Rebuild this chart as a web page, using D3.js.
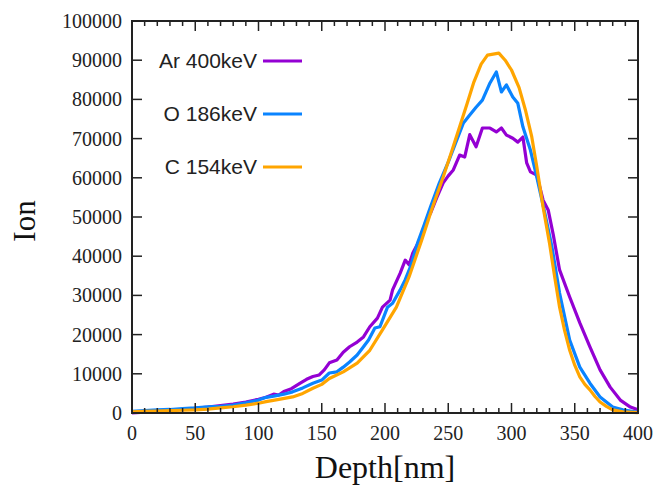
<!DOCTYPE html>
<html>
<head>
<meta charset="utf-8">
<script src="https://cdn.jsdelivr.net/npm/d3@7"></script>
<style>
  body { margin: 0; background: #fff; }
  svg { display: block; }
</style>
</head>
<body>
<svg id="chart" width="659" height="485"></svg>
<script>
// depth (nm) and ion counts
const arDepth = [0, 10, 20, 30, 40, 50, 60, 70, 80, 90, 100, 106, 112, 116, 120, 126, 133, 138, 143, 148, 152, 156, 162, 167, 172, 178, 183, 188, 194, 198, 204, 206, 212, 216, 219, 222, 228, 232, 236, 241, 246, 250, 254, 259, 263, 267, 272, 277, 283, 288, 292, 296, 301, 305, 309, 312, 315, 320, 325, 329, 333, 338, 346, 354, 362, 370, 378, 386, 394, 400];
const arIons  = [0, 200, 500, 700, 900, 1200, 1500, 1900, 2300, 2800, 3500, 4000, 4800, 4600, 5500, 6200, 7600, 8600, 9300, 9700, 11000, 12800, 13500, 15500, 16900, 18100, 19400, 22000, 24200, 27000, 28800, 31400, 35700, 39000, 37800, 40800, 44500, 48500, 51000, 55000, 58700, 60500, 62000, 65800, 65300, 71000, 67900, 72700, 72700, 71700, 72700, 70900, 70100, 69100, 70400, 63800, 61500, 60700, 54300, 51800, 45500, 36500, 29600, 23000, 16900, 11000, 6600, 3300, 1500, 800];

const oDepth = [0, 10, 20, 30, 40, 50, 60, 70, 80, 90, 100, 106, 112, 120, 127, 135, 143, 150, 156, 162, 167, 172, 178, 183, 187, 192, 196, 202, 206, 212, 216, 220, 226, 231, 236, 243, 250, 256, 262, 267, 272, 277, 283, 288, 292, 296, 301, 305, 309, 315, 320, 326, 332, 338, 346, 354, 362, 370, 380, 388, 394, 400];
const oIons  = [400, 600, 800, 900, 1100, 1300, 1600, 1700, 2000, 2600, 3300, 4000, 4300, 4800, 5400, 6400, 7600, 8400, 10200, 10500, 11700, 13000, 14800, 16900, 18600, 21700, 22000, 27000, 28000, 31400, 34000, 37200, 43600, 48000, 52600, 58700, 64000, 69000, 74000, 76000, 78000, 79800, 84200, 87000, 81900, 83700, 80600, 79000, 73000, 67000, 60200, 51500, 42300, 30600, 18600, 11700, 7600, 4100, 1500, 800, 500, 200];

const cDepth = [0, 10, 20, 30, 40, 50, 60, 70, 80, 90, 100, 106, 115, 127, 135, 143, 150, 156, 167, 178, 188, 198, 209, 219, 229, 237, 246, 253, 259, 265, 270, 276, 281, 290, 295, 300, 306, 311, 316, 320, 325, 330, 334, 338, 342, 346, 350, 354, 358, 362, 366, 370, 375, 380, 388, 400];
const cIons  = [300, 400, 500, 600, 700, 800, 1000, 1300, 1600, 2000, 2500, 2900, 3400, 4100, 5000, 6300, 7300, 8800, 10500, 12700, 16000, 21200, 27000, 34700, 44100, 52000, 60200, 67000, 73000, 79000, 84200, 89000, 91300, 91800, 90000, 87500, 83000, 77300, 70500, 62800, 52500, 43400, 35000, 27000, 21000, 16000, 12200, 9200, 7300, 5900, 4200, 2800, 1700, 800, 300, 100];

const seriesNames = ["Ar 400keV", "O 186keV", "C 154keV"];
const seriesColors = ["#9400d3", "#0a84ff", "#ffa500"];
const xTicks = [0, 50, 100, 150, 200, 250, 300, 350, 400];
const yTicks = [0, 10000, 20000, 30000, 40000, 50000, 60000, 70000, 80000, 90000, 100000];

const series = [
    { name: seriesNames[0], color: seriesColors[0], pts: arDepth.map((d, i) => [d, arIons[i]]) },
    { name: seriesNames[1], color: seriesColors[1], pts: oDepth.map((d, i) => [d, oIons[i]]) },
    { name: seriesNames[2], color: seriesColors[2], pts: cDepth.map((d, i) => [d, cIons[i]]) }
];

const svg = d3.select("#chart");
const plotLeft = 132, plotRight = 638, plotTop = 21, plotBottom = 413;

const x = d3.scaleLinear().domain([0, 400]).range([plotLeft, plotRight]);
const y = d3.scaleLinear().domain([0, 100000]).range([plotBottom, plotTop]);

const serif = "'Liberation Serif', 'Times New Roman', serif";
const sans = "'Liberation Sans', Arial, sans-serif";

// curves, drawn under the frame
const line = d3.line().x(d => x(d[0])).y(d => y(d[1]));
const gLines = svg.append("g");
series.forEach(s => {
    gLines.append("path")
        .datum(s.pts)
        .attr("fill", "none")
        .attr("stroke", s.color)
        .attr("stroke-width", 3.2)
        .attr("stroke-linejoin", "round")
        .attr("d", line);
});

// inward ticks on all four sides
const minorX = d3.range(0, 401, 10).filter(v => v % 50 !== 0);
const gTicks = svg.append("g").attr("stroke", "#222").attr("stroke-width", 1.5);
xTicks.forEach(v => {
    gTicks.append("line").attr("x1", x(v)).attr("x2", x(v)).attr("y1", plotBottom).attr("y2", plotBottom - 10);
    gTicks.append("line").attr("x1", x(v)).attr("x2", x(v)).attr("y1", plotTop).attr("y2", plotTop + 10);
});
minorX.forEach(v => {
    gTicks.append("line").attr("x1", x(v)).attr("x2", x(v)).attr("y1", plotBottom).attr("y2", plotBottom - 5);
    gTicks.append("line").attr("x1", x(v)).attr("x2", x(v)).attr("y1", plotTop).attr("y2", plotTop + 5);
});
yTicks.forEach(v => {
    gTicks.append("line").attr("x1", plotLeft).attr("x2", plotLeft + 10).attr("y1", y(v)).attr("y2", y(v));
    gTicks.append("line").attr("x1", plotRight).attr("x2", plotRight - 10).attr("y1", y(v)).attr("y2", y(v));
});

svg.append("rect")
    .attr("x", plotLeft).attr("y", plotTop)
    .attr("width", plotRight - plotLeft).attr("height", plotBottom - plotTop)
    .attr("fill", "none").attr("stroke", "#222").attr("stroke-width", 2);

// tick labels
svg.append("g").selectAll("text")
    .data(xTicks)
    .join("text")
    .attr("x", d => x(d))
    .attr("y", 440)
    .attr("text-anchor", "middle")
    .attr("font-family", serif)
    .attr("font-size", 20)
    .attr("fill", "#222")
    .text(d => d);

svg.append("g").selectAll("text")
    .data(yTicks)
    .join("text")
    .attr("x", 122)
    .attr("y", d => y(d))
    .attr("dy", "0.35em")
    .attr("text-anchor", "end")
    .attr("font-family", serif)
    .attr("font-size", 20)
    .attr("fill", "#222")
    .text(d => d);

// axis titles
svg.append("text")
    .attr("x", (plotLeft + plotRight) / 2)
    .attr("y", 478)
    .attr("text-anchor", "middle")
    .attr("font-family", serif)
    .attr("font-size", 32)
    .attr("fill", "#111")
    .text("Depth[nm]");

svg.append("text")
    .attr("transform", "translate(35,221) rotate(-90)")
    .attr("text-anchor", "middle")
    .attr("font-family", serif)
    .attr("font-size", 31)
    .attr("fill", "#111")
    .text("Ion");

// legend
const legendY = [61, 114, 167];
const legend = svg.append("g").selectAll("g")
    .data(series)
    .join("g")
    .attr("transform", (d, i) => `translate(0,${legendY[i]})`);
legend.append("text")
    .attr("x", 257)
    .attr("dy", "0.35em")
    .attr("text-anchor", "end")
    .attr("font-family", sans)
    .attr("font-size", 21)
    .attr("fill", "#222")
    .text(d => d.name);
legend.append("line")
    .attr("x1", 263).attr("x2", 302)
    .attr("stroke", d => d.color)
    .attr("stroke-width", 3.2);
</script>
</body>
</html>
